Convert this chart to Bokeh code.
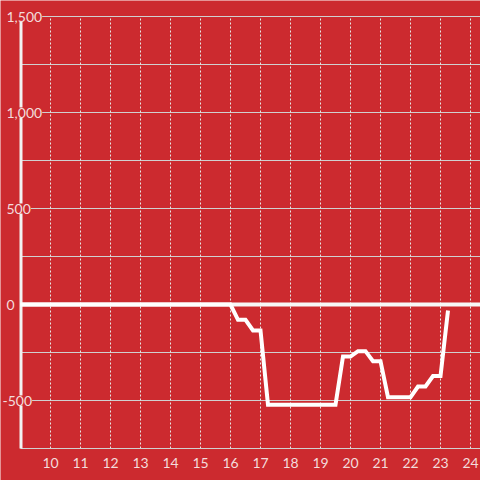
from bokeh.plotting import figure
from bokeh.models import Range1d, Label
from bokeh.embed import file_html
from bokeh.resources import INLINE

# ---- data ----
hours = [9.0, 16.0, 16.25, 16.5, 16.75, 17.0, 17.25, 19.5, 19.75, 20.0, 20.25,
         20.5, 20.75, 21.0, 21.25, 22.0, 22.25, 22.5, 22.75, 23.0, 23.25]
values = [0, 0, -80, -80, -135, -135, -522, -522, -271, -271, -243,
          -243, -295, -295, -483, -483, -427, -427, -373, -373, -31]
x_ticks = [10, 11, 12, 13, 14, 15, 16, 17, 18, 19, 20, 21, 22, 23, 24]
y_grid = [-500, -250, 0, 250, 500, 750, 1000, 1250, 1500]
y_labels = {1500: "1,500", 1000: "1,000", 500: "500", 0: "0", -500: "-500"}

# ---- style ----
BG = "#cc2a2f"
TXT = "#f3dcdc"
GRID = "#d0d0d0"
W, H = 480, 480
px_x = 30.0   # pixels per hour
px_y = 48.0 / 250.0  # pixels per unit
x0_hour = 9.0
x0_px = 20.0
y_top_val = 1500.0
y_top_px = 16.0

xs = x0_hour - x0_px / px_x
xe = xs + W / px_x
ye = y_top_val + y_top_px / px_y
ys = ye - H / px_y
y_bottom = -750

p = figure(width=W, height=H, output_backend="svg", toolbar_location=None,
           x_range=Range1d(xs, xe), y_range=Range1d(ys, ye),
           min_border=0, x_axis_type=None, y_axis_type=None,
           background_fill_color=BG, border_fill_color=BG, outline_line_color=None)
p.grid.visible = False

# horizontal grid lines
p.segment(x0=[x0_hour] * len(y_grid), x1=[xe] * len(y_grid), y0=y_grid, y1=y_grid,
          line_color=GRID, line_width=1)
# vertical dotted grid lines
p.segment(x0=x_ticks, x1=x_ticks, y0=[y_bottom] * len(x_ticks), y1=[y_top_val] * len(x_ticks),
          line_color="#e6e6e6", line_width=1, line_dash="2 2")
# x axis line
p.segment(x0=[x0_hour], x1=[xe], y0=[y_bottom], y1=[y_bottom], line_color=GRID, line_width=1)
# y axis bar
p.segment(x0=[x0_hour + 0.5 / px_x], x1=[x0_hour + 0.5 / px_x], y0=[y_bottom], y1=[y_top_val],
          line_color="#f2f2f2", line_width=3)
# zero line
p.segment(x0=[x0_hour + 1.5 / px_x], x1=[xe], y0=[0], y1=[0], line_color="#f7f7f7", line_width=4)
# series
p.line(hours, values, line_color="#ffffff", line_width=4, line_join="miter")

# y labels
for v, t in y_labels.items():
    left_px = 2.0 if v < 0 else 6.0
    p.add_layout(Label(x=xs + left_px / px_x, y=v, text=t, text_align="left",
                       text_baseline="middle", text_font="Lato", text_font_size="14px",
                       text_color=TXT, background_fill_color=BG, padding=0))
# x labels
for h in x_ticks:
    p.add_layout(Label(x=h, y=y_bottom, y_offset=-14, text=str(h), text_align="center",
                       text_baseline="middle", text_font="Lato", text_font_size="14px",
                       text_color=TXT))

open("out.html", "w").write(file_html(p, INLINE))
